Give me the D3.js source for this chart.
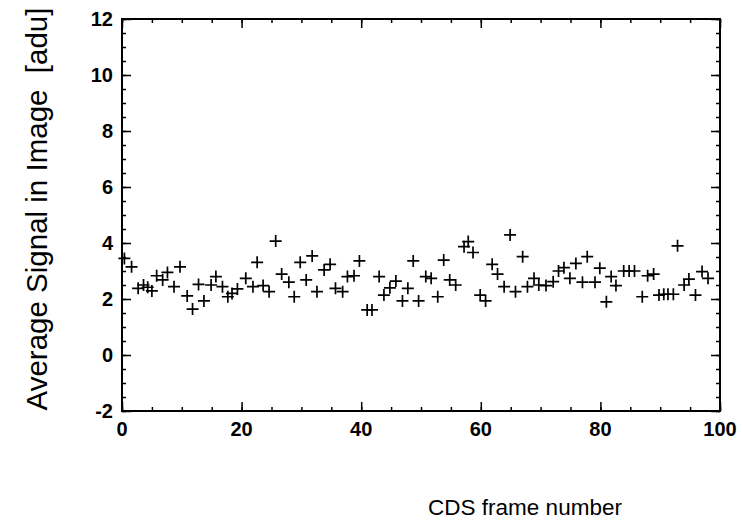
<!DOCTYPE html>
<html>
<head>
<meta charset="utf-8">
<script src="https://cdn.jsdelivr.net/npm/d3@7"></script>
<style>
body { margin: 0; background: #fff; }
svg { display: block; }
.tick-label { font-family: "Liberation Sans", Arial, sans-serif; font-weight: bold; font-size: 20px; fill: #000; }
.title { font-family: "Liberation Sans", Arial, sans-serif; fill: #000; white-space: pre; }
</style>
</head>
<body>
<svg width="742" height="521"></svg>
<script>
// frame numbers and average signal
const frame = [
	0.4, 1.6, 2.7, 3.6, 4.3, 5.0, 5.8, 6.8, 7.6, 8.7, 9.7, 10.9, 11.8, 12.8, 13.7, 14.9, 15.7,
	16.8, 17.7, 18.4, 19.3, 20.7, 21.9, 22.6, 23.6, 24.6, 25.7, 26.7, 27.9, 28.8, 29.8, 30.8, 31.8, 32.6,
	33.8, 34.8, 35.7, 36.9, 37.7, 38.8, 39.7, 41.0, 41.8, 43.0, 43.8, 44.8, 45.8, 46.9, 47.8, 48.7, 49.6,
	50.8, 51.7, 52.8, 53.8, 54.8, 55.8, 57.2, 57.9, 58.7, 59.9, 60.8, 61.9, 62.8, 63.9, 64.9, 65.8,
	67.0, 67.8, 68.9, 69.7, 70.9, 72.1, 73.0, 73.9, 74.9, 75.9, 77.0, 77.8, 79.1, 79.9, 81.0, 81.8, 82.6,
	83.9, 84.8, 85.7, 87.0, 87.9, 88.9, 89.8, 90.6, 91.3, 92.2, 92.9, 94.0, 94.8, 95.9, 97.0, 98.0
];
const signal = [
	3.45, 3.15, 2.38, 2.5, 2.42, 2.29, 2.83, 2.68, 2.95, 2.44, 3.15, 2.11, 1.64, 2.52, 1.93, 2.5, 2.8,
	2.44, 2.08, 2.2, 2.36, 2.74, 2.44, 3.31, 2.48, 2.26, 4.07, 2.89, 2.6, 2.08, 3.31, 2.68, 3.54, 2.26,
	3.04, 3.24, 2.38, 2.26, 2.8, 2.83, 3.36, 1.61, 1.61, 2.8, 2.14, 2.4, 2.64, 1.93, 2.38, 3.36, 1.93,
	2.8, 2.74, 2.08, 3.39, 2.68, 2.5, 3.87, 4.05, 3.66, 2.14, 1.93, 3.24, 2.89, 2.44, 4.29, 2.26,
	3.51, 2.44, 2.74, 2.5, 2.48, 2.62, 3.0, 3.12, 2.74, 3.27, 2.6, 3.51, 2.6, 3.1, 1.9, 2.8, 2.48,
	3.0, 3.0, 3.0, 2.08, 2.83, 2.89, 2.14, 2.17, 2.17, 2.17, 3.9, 2.5, 2.71, 2.14, 2.98, 2.74
];

const xTicks = [0, 20, 40, 60, 80, 100];
const yTicks = [-2, 0, 2, 4, 6, 8, 10, 12];
const xLabel = "CDS frame number";
const yLabel = "Average Signal in Image  [adu]";

const plotLeft = 122, plotRight = 720, plotTop = 19, plotBottom = 411;

const x = d3.scaleLinear().domain([0, 100]).range([plotLeft, plotRight]);
const y = d3.scaleLinear().domain([-2, 12]).range([plotBottom, plotTop]);

const svg = d3.select("svg");

const xMinor = d3.range(0, 100.01, 5);
const yMinor = d3.range(-2, 12.01, 0.5);

function ticks(g, axis) {
	g.call(axis);
	g.select(".domain").remove();
	g.selectAll(".tick line").attr("stroke", "#000").attr("stroke-width", 1.5);
	g.selectAll("text").remove();
}

// minor + major ticks, all pointing inward
svg.append("g").attr("transform", `translate(0,${plotBottom})`)
	.call(g => ticks(g, d3.axisBottom(x).tickValues(xMinor).tickSize(-4)));
svg.append("g").attr("transform", `translate(0,${plotBottom})`)
	.call(g => ticks(g, d3.axisBottom(x).tickValues(xTicks).tickSize(-9)));
svg.append("g").attr("transform", `translate(0,${plotTop})`)
	.call(g => ticks(g, d3.axisTop(x).tickValues(xMinor).tickSize(-4)));
svg.append("g").attr("transform", `translate(0,${plotTop})`)
	.call(g => ticks(g, d3.axisTop(x).tickValues(xTicks).tickSize(-9)));
svg.append("g").attr("transform", `translate(${plotLeft},0)`)
	.call(g => ticks(g, d3.axisLeft(y).tickValues(yMinor).tickSize(-4)));
svg.append("g").attr("transform", `translate(${plotLeft},0)`)
	.call(g => ticks(g, d3.axisLeft(y).tickValues(yTicks).tickSize(-9)));
svg.append("g").attr("transform", `translate(${plotRight},0)`)
	.call(g => ticks(g, d3.axisRight(y).tickValues(yMinor).tickSize(-4)));
svg.append("g").attr("transform", `translate(${plotRight},0)`)
	.call(g => ticks(g, d3.axisRight(y).tickValues(yTicks).tickSize(-9)));

// frame
svg.append("rect")
	.attr("x", plotLeft)
	.attr("y", plotTop)
	.attr("width", plotRight - plotLeft)
	.attr("height", plotBottom - plotTop)
	.attr("fill", "none")
	.attr("stroke", "#000")
	.attr("stroke-width", 2);

// tick labels
svg.append("g")
	.selectAll("text")
	.data(xTicks)
	.join("text")
	.attr("class", "tick-label")
	.attr("x", d => x(d))
	.attr("y", plotBottom + 25)
	.attr("text-anchor", "middle")
	.text(d => d);

svg.append("g")
	.selectAll("text")
	.data(yTicks)
	.join("text")
	.attr("class", "tick-label")
	.attr("x", plotLeft - 9)
	.attr("y", d => y(d) + 7)
	.attr("text-anchor", "end")
	.text(d => d);

// points
svg.append("g")
	.selectAll("path")
	.data(frame.map((f, i) => [f, signal[i]]))
	.join("path")
	.attr("transform", d => `translate(${x(d[0])},${y(d[1])})`)
	.attr("d", "M-6,0H6M0,-6V6")
	.attr("stroke", "#000")
	.attr("stroke-width", 1.7)
	.attr("fill", "none");

// axis titles
svg.append("text")
	.attr("class", "title")
	.attr("font-size", 29.5)
	.attr("transform", "translate(47,209) rotate(-90)")
	.attr("text-anchor", "middle")
	.text(yLabel);

svg.append("text")
	.attr("class", "title")
	.attr("font-size", 22.5)
	.attr("x", 525)
	.attr("y", 515)
	.attr("text-anchor", "middle")
	.text(xLabel);
</script>
</body>
</html>
